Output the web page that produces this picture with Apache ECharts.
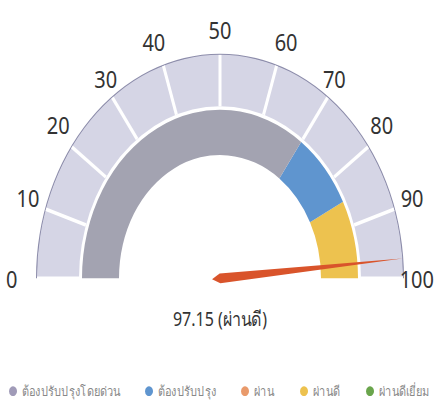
<!DOCTYPE html>
<html>
<head>
<meta charset="utf-8">
<script src="https://cdn.jsdelivr.net/npm/echarts@6/dist/echarts.min.js"></script>
<style>
  html, body { margin: 0; padding: 0; background: #fff; }
  #wrap { width: 440px; height: 404px; overflow: hidden; }
  /* the reference picture is stretched vertically, so the chart is too */
  #main { width: 440px; height: 331px; transform: scaleY(1.2205); transform-origin: 0 0; }
</style>
</head>
<body>
<div id="wrap"><div id="main"></div></div>
<script>
// gauge scale
const axisMin = 0
const axisMax = 100
const axisSplits = 10

// score shown by the pointer
const score = 97.15
const scoreText = 'ผ่านดี'

// coloured band (upper bound of each band, in axis units)
const bandStops = [70, 85, 100]
const bandColors = ['#a3a3b1', '#5f95cf', '#edc24f']

// legend
const legendNames = ['ต้องปรับปรุงโดยด่วน', 'ต้องปรับปรุง', 'ผ่าน', 'ผ่านดี', 'ผ่านดีเยี่ยม']
const legendColors = ['#a09bb8', '#5f95cf', '#e99a6b', '#edc24f', '#6aa54c']

const fontFamily = '"Noto Sans", "Open Sans", sans-serif'
const center = ['50%', 228]

const chart = echarts.init(document.getElementById('main'), null, { renderer: 'svg' })

chart.setOption({
  backgroundColor: '#fff',
  animation: false,
  legend: {
    left: 4,
    top: 310,
    icon: 'circle',
    itemWidth: 8,
    itemHeight: 8,
    itemGap: 26,
    textStyle: { color: '#888', fontSize: 11, fontFamily },
    data: legendNames
  },
  series: [
    // outer light ring with splits, labels and the pointer
    {
      type: 'gauge',
      center,
      radius: 183,
      startAngle: 180,
      endAngle: 0,
      min: axisMin,
      max: axisMax,
      splitNumber: axisSplits,
      axisLine: { lineStyle: { width: 42, color: [[1, '#d5d5e5']] } },
      splitLine: { distance: -42, length: 42, lineStyle: { color: '#fff', width: 3 } },
      axisTick: { show: false },
      axisLabel: { distance: -31, color: '#333', fontSize: 20, fontFamily },
      pointer: { length: '100%', width: 4, itemStyle: { color: '#d9542b' } },
      anchor: { show: false },
      title: { show: false },
      detail: {
        offsetCenter: [0, 33],
        fontSize: 16,
        color: '#333',
        fontWeight: 'normal',
        fontFamily,
        formatter: v => v.toFixed(2) + ' (' + scoreText + ')'
      },
      data: [{ value: score, name: scoreText }],
      z: 2
    },
    // thin outline round the outer ring
    {
      type: 'gauge',
      center,
      radius: 184,
      startAngle: 180,
      endAngle: 0,
      axisLine: { lineStyle: { width: 1.5, color: [[1, '#8d8dab']] } },
      splitLine: { show: false },
      axisTick: { show: false },
      axisLabel: { show: false },
      pointer: { show: false },
      detail: { show: false },
      title: { show: false },
      data: [],
      z: 1
    },
    // inner coloured band
    {
      type: 'gauge',
      center,
      radius: 138,
      startAngle: 180,
      endAngle: 0,
      min: axisMin,
      max: axisMax,
      axisLine: {
        lineStyle: {
          width: 37,
          color: bandStops.map((s, i) => [(s - axisMin) / (axisMax - axisMin), bandColors[i]])
        }
      },
      splitLine: { show: false },
      axisTick: { show: false },
      axisLabel: { show: false },
      pointer: { show: false },
      detail: { show: false },
      title: { show: false },
      data: [],
      z: 1
    },
    // legend entries only
    {
      type: 'pie',
      radius: [0, 0],
      silent: true,
      stillShowZeroSum: false,
      label: { show: false },
      labelLine: { show: false },
      data: legendNames.map((n, i) => ({ name: n, value: 0, itemStyle: { color: legendColors[i] } }))
    }
  ]
})
</script>
</body>
</html>
